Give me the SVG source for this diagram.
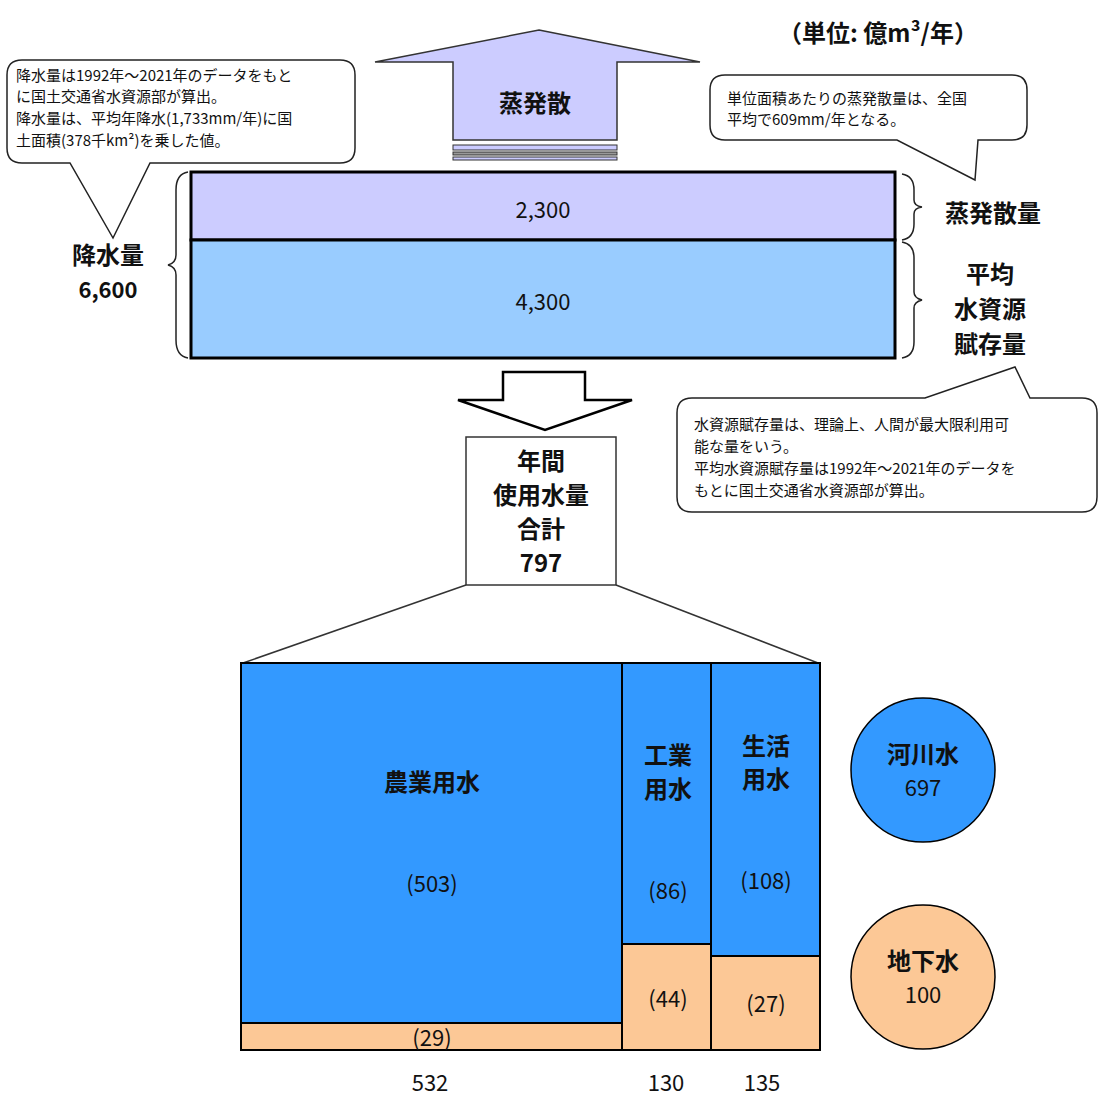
<svg xmlns="http://www.w3.org/2000/svg" width="1100" height="1104" viewBox="0 0 1100 1104">
<style>
text{font-family:"Noto Sans CJK JP","Liberation Sans",sans-serif;fill:#111}
.n{font-size:22px;text-anchor:middle}
.b{font-size:24px;font-weight:bold;text-anchor:middle}
.s{font-size:15px}
.c{fill:#fff;stroke:#222;stroke-width:1.5}
.br{fill:none;stroke:#222;stroke-width:1.5}
</style>
<rect width="1100" height="1104" fill="#fff"/>
<text x="878" y="42" class="b" font-size="22">（単位: 億m³/年）</text>
<g id="evap-arrow">
<path d="M539,30 L700,62 L617,62 L617,140 L453,140 L453,62 L375,62 Z" fill="#ccccff" stroke="#333" stroke-width="1.5"/>
<rect x="453" y="145" width="164" height="5" fill="#ccccff" stroke="#333"/>
<rect x="453" y="152" width="164" height="3" fill="#999" stroke="#333"/>
<rect x="453" y="157" width="164" height="3" fill="#ccccff" stroke="#333"/>
<text x="535" y="112" class="b">蒸発散</text>
</g>
<g id="evap-box">
<rect x="191" y="172" width="704" height="68" fill="#ccccff" stroke="#000" stroke-width="3"/>
<text x="543" y="218" class="n">2,300</text>
</g>
<g id="resource-box">
<rect x="191" y="240" width="704" height="118" fill="#99ccff" stroke="#000" stroke-width="3"/>
<text x="543" y="310" class="n">4,300</text>
</g>
<g id="braces">
<path class="br" d="M188,172 Q176,174 176,190 L176,255 Q176,263 168,265 Q176,267 176,275 L176,340 Q176,356 188,358"/>
<path class="br" d="M902,174 Q914,176 914,190 L914,200 Q914,206 922,207 Q914,208 914,214 L914,224 Q914,238 902,240"/>
<path class="br" d="M902,242 Q914,244 914,258 L914,292 Q914,298 922,300 Q914,302 914,308 L914,342 Q914,356 902,358"/>
</g>
<g id="rain-label"><text x="108" y="264" class="b">降水量</text><text x="108" y="298" class="n" font-weight="bold">6,600</text></g>
<g id="evap-label"><text x="993" y="222" class="b">蒸発散量</text></g>
<g id="resource-label"><text x="990" y="283" class="b">平均</text><text x="990" y="318" class="b">水資源</text><text x="990" y="353" class="b">賦存量</text></g>
<g id="callout-left">
<path class="c" d="M22,60 L340,60 Q355,60 355,75 L355,148 Q355,163 340,163 L150,163 L113,238 L70,163 L22,163 Q7,163 7,148 L7,75 Q7,60 22,60 Z"/>
<text class="s" x="16" y="81">降水量は1992年～2021年のデータをもと</text>
<text class="s" x="16" y="102">に国土交通省水資源部が算出。</text>
<text class="s" x="16" y="124">降水量は、平均年降水(1,733mm/年)に国</text>
<text class="s" x="16" y="146">土面積(378千km²)を乗した値。</text>
</g>
<g id="callout-right">
<path class="c" d="M725,75 L1012,75 Q1027,75 1027,90 L1027,125 Q1027,140 1012,140 L978,140 L975,180 L897,140 L725,140 Q710,140 710,125 L710,90 Q710,75 725,75 Z"/>
<text class="s" x="727" y="104">単位面積あたりの蒸発散量は、全国</text>
<text class="s" x="727" y="125">平均で609mm/年となる。</text>
</g>
<g id="callout-bottom">
<path class="c" d="M692,398 L925,398 L1015,367 L1030,398 L1082,398 Q1097,398 1097,413 L1097,497 Q1097,512 1082,512 L692,512 Q677,512 677,497 L677,413 Q677,398 692,398 Z"/>
<text class="s" x="694" y="430">水資源賦存量は、理論上、人間が最大限利用可</text>
<text class="s" x="694" y="452">能な量をいう。</text>
<text class="s" x="694" y="474">平均水資源賦存量は1992年～2021年のデータを</text>
<text class="s" x="694" y="496">もとに国土交通省水資源部が算出。</text>
</g>
<g id="down-arrow">
<path d="M503,372 L585,372 L585,400 L632,400 L545,430 L458,400 L503,400 Z" fill="#fff" stroke="#000" stroke-width="2.5"/>
</g>
<g id="total-box">
<rect x="466" y="437" width="150" height="148" fill="#fff" stroke="#333" stroke-width="1.5"/>
<text x="541" y="470" class="b">年間</text><text x="541" y="504" class="b">使用水量</text><text x="541" y="538" class="b">合計</text><text x="541" y="572" class="b">797</text>
</g>
<g id="connectors">
<line x1="466" y1="585" x2="243" y2="663" stroke="#333" stroke-width="1.5"/>
<line x1="616" y1="585" x2="818" y2="663" stroke="#333" stroke-width="1.5"/>
</g>
<g id="agri">
<rect x="241" y="663" width="381" height="360" fill="#3399ff" stroke="#000" stroke-width="2"/>
<rect x="241" y="1023" width="381" height="27" fill="#fcc896" stroke="#000" stroke-width="2"/>
<text x="432" y="791" class="b">農業用水</text><text x="432" y="892" class="n">(503)</text><text x="432" y="1046" class="n">(29)</text>
<text x="430" y="1091" class="n">532</text>
</g>
<g id="industry">
<rect x="622" y="663" width="89" height="281" fill="#3399ff" stroke="#000" stroke-width="2"/>
<rect x="622" y="944" width="89" height="106" fill="#fcc896" stroke="#000" stroke-width="2"/>
<text x="668" y="764" class="b">工業</text><text x="668" y="798" class="b">用水</text><text x="668" y="899" class="n">(86)</text><text x="668" y="1007" class="n">(44)</text>
<text x="666" y="1091" class="n">130</text>
</g>
<g id="domestic">
<rect x="711" y="663" width="109" height="293" fill="#3399ff" stroke="#000" stroke-width="2"/>
<rect x="711" y="956" width="109" height="94" fill="#fcc896" stroke="#000" stroke-width="2"/>
<text x="766" y="755" class="b">生活</text><text x="766" y="788" class="b">用水</text><text x="766" y="889" class="n">(108)</text><text x="766" y="1012" class="n">(27)</text>
<text x="762" y="1091" class="n">135</text>
</g>
<g id="river"><circle cx="923" cy="770" r="72" fill="#3399ff" stroke="#000" stroke-width="1.5"/><text x="923" y="763" class="b">河川水</text><text x="923" y="796" class="n">697</text></g>
<g id="ground"><circle cx="923" cy="977" r="72" fill="#fcc896" stroke="#000" stroke-width="1.5"/><text x="923" y="970" class="b">地下水</text><text x="923" y="1003" class="n">100</text></g>
</svg>
